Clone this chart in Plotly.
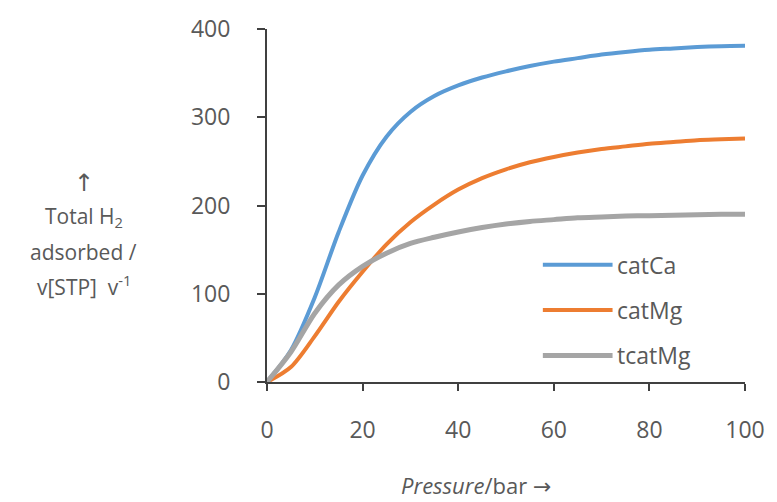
import plotly.graph_objects as go

pressure = [0, 5, 10, 15, 20, 25, 30, 35, 40, 45, 50, 55, 60, 65, 70, 75, 80, 85, 90, 95, 100]
catCa = [0, 36, 96, 170, 234, 278, 306, 324, 336, 345, 352, 358, 363, 367, 371, 374, 376.5, 378, 379.5, 380.5, 381]
catMg = [0, 17, 52, 91, 125, 156, 181, 201, 218, 231, 241, 249, 255, 260, 264, 267, 270, 272, 274, 275, 276]
tcatMg = [0, 34, 78, 110, 131, 146, 157, 164, 170, 175, 179, 182, 184, 186, 187, 188, 188.5, 189, 189.5, 190, 190]

series_names = ["catCa", "catMg", "tcatMg"]
series_vals = [catCa, catMg, tcatMg]
colors = ["#5B9BD5", "#ED7D31", "#A5A5A5"]
widths = [4, 4, 5]

x_ticks = [0, 20, 40, 60, 80, 100]
y_ticks = [0, 100, 200, 300, 400]

FONT = "Open Sans"
TXT = "#595959"
W, H = 777, 502
L, R, T, B = 267, 30, 24, 120
pw, ph = W - L - R, H - T - B

fig = go.Figure()
for name, vals, col, w in zip(series_names, series_vals, colors, widths):
    fig.add_trace(go.Scatter(x=pressure, y=vals, mode="lines", name=name,
                             line=dict(color=col, width=w, shape="spline", smoothing=0.85),
                             showlegend=False))

def px_to_paper(px, py):
    return (px - L) / pw, (H - B - py) / ph

# manual legend
leg_y = [263, 309, 355]
for name, col, w, ly in zip(series_names, colors, widths, leg_y):
    x0, y0 = px_to_paper(544, ly)
    x1, _ = px_to_paper(614, ly)
    fig.add_shape(type="line", xref="paper", yref="paper", x0=x0, x1=x1, y0=y0, y1=y0,
                  line=dict(color=col, width=w))
    tx, ty = px_to_paper(616, ly)
    fig.add_annotation(xref="paper", yref="paper", x=tx, y=ty, text=name, showarrow=False,
                       xanchor="left", yanchor="middle",
                       font=dict(family=FONT, size=23, color=TXT))

# y axis title lines
ytitle = ["↑", "Total H<sub>2</sub>", "adsorbed /", "v[STP]  v<sup>-1</sup>"]
ypos = [180, 215, 250, 284]
ysizes = [24, 21, 21, 21]
yfonts = ["DejaVu Sans", FONT, FONT, FONT]
for t, py, s, f in zip(ytitle, ypos, ysizes, yfonts):
    ax_, ay_ = px_to_paper(83, py)
    fig.add_annotation(xref="paper", yref="paper", x=ax_, y=ay_, text=t, showarrow=False,
                       xanchor="center", yanchor="middle",
                       font=dict(family=f, size=s, color=TXT))

# x axis title
xx, xy = px_to_paper(477, 486)
fig.add_annotation(xref="paper", yref="paper", x=xx, y=xy,
                   text="<i>Pressure</i>/bar <span style='font-family:DejaVu Sans'>→</span>",
                   showarrow=False, xanchor="center", yanchor="middle",
                   font=dict(family=FONT, size=22, color=TXT))

fig.update_layout(
    width=W, height=H,
    margin=dict(l=L, r=R, t=T, b=B),
    paper_bgcolor="white", plot_bgcolor="white",
    font=dict(family=FONT, color=TXT),
)
fig.update_xaxes(range=[0, 100], tickvals=x_ticks, ticks="outside", ticklen=7, tickwidth=2,
                 tickcolor="#404040", showline=True, linecolor="#404040", linewidth=2,
                 showgrid=False, zeroline=False, tickfont=dict(family=FONT, size=23, color=TXT),
                 ticklabelstandoff=19)
fig.update_yaxes(range=[0, 400], tickvals=y_ticks, ticks="outside", ticklen=8, tickwidth=2,
                 tickcolor="#404040", showline=True, linecolor="#404040", linewidth=2,
                 showgrid=False, zeroline=False, tickfont=dict(family=FONT, size=23, color=TXT),
                 ticklabelstandoff=22)

fig.write_html("out.html")
